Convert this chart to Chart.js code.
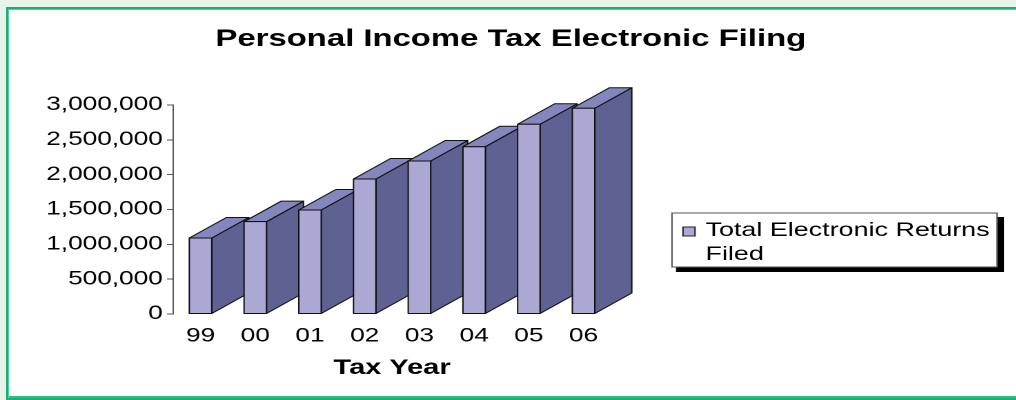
<!DOCTYPE html>
<html>
<head>
<meta charset="utf-8">
<script src="https://cdn.jsdelivr.net/npm/chart.js@4"></script>
<style>
    html, body { margin: 0; padding: 0; width: 1016px; height: 400px; overflow: hidden; background: #e8f3ea; }
    #frame { position: absolute; left: 6px; top: 7px; width: 1010px; height: 393px; box-sizing: border-box; background: #fff; border: solid #1cae72; border-width: 2px 0 2px 2px; box-shadow: inset 1px 1px 0 #4fd29b, inset 0 -2px 0 #2dbd80; }
    #pie { position: absolute; left: 0; top: 0; transform-origin: 0 0; transform: scaleX(1.38); }
</style>
</head>
<body>
<div id="frame"></div>
<canvas id="pie" width="736" height="400"></canvas>
<script>
const years = ['99', '00', '01', '02', '03', '04', '05', '06'];
const returnsFiled = [1091000, 1325000, 1493000, 1938000, 2196000, 2401000, 2723000, 2953000];
const legendLines = ['Total Electronic Returns', 'Filed'];

const stretch = 1.38;   // the original picture is wider than tall, all text is stretched
const depthX = 37 / stretch;
const depthY = 20.5;

// 3d faces of the bars, left to right so each bar covers the side of the one before
const bars3d = {
    id: 'bars3d',
    afterDatasetsDraw(chart) {
        const ctx = chart.ctx;
        ctx.save();
        ctx.lineWidth = 1;
        ctx.strokeStyle = '#111';
        ctx.lineJoin = 'round';
        chart.getDatasetMeta(0).data.forEach(bar => {
            const l = bar.x - bar.width / 2, r = bar.x + bar.width / 2;
            const t = bar.y, b = bar.base;

            ctx.fillStyle = '#5f6192';
            ctx.beginPath();
            ctx.moveTo(r, t);
            ctx.lineTo(r + depthX, t - depthY);
            ctx.lineTo(r + depthX, b - depthY);
            ctx.lineTo(r, b);
            ctx.closePath();
            ctx.fill();
            ctx.stroke();

            ctx.fillStyle = '#8486bd';
            ctx.beginPath();
            ctx.moveTo(l, t);
            ctx.lineTo(l + depthX, t - depthY);
            ctx.lineTo(r + depthX, t - depthY);
            ctx.lineTo(r, t);
            ctx.closePath();
            ctx.fill();
            ctx.stroke();

            ctx.fillStyle = '#aba8d4';
            ctx.fillRect(l, t, r - l, b - t);
            ctx.strokeRect(l, t, r - l, b - t);
        });
        ctx.restore();
    }
};

const legendBox = {
    id: 'legendBox',
    afterLayout(chart) {
        // centre the title on the whole picture, not on the plot
        chart.titleBlock.left = 3 / stretch;
        chart.titleBlock.right = chart.width + 3 / stretch;
    },
    afterDraw(chart) {
        const ctx = chart.ctx;
        const x = 672 / stretch, w = 325 / stretch, y = 213, h = 54;
        ctx.save();
        ctx.fillStyle = '#000';
        ctx.fillRect(x + 4 / stretch, y + 4, w + 3 / stretch, h + 1);
        ctx.fillStyle = '#fff';
        ctx.strokeStyle = '#555';
        ctx.lineWidth = 1;
        ctx.fillRect(x, y, w, h);
        ctx.strokeRect(x, y, w, h);
        ctx.fillStyle = '#aba8d4';
        ctx.strokeStyle = '#222';
        ctx.fillRect(683 / stretch, 227, 12 / stretch, 9);
        ctx.strokeRect(683 / stretch, 227, 12 / stretch, 9);
        ctx.fillStyle = '#000';
        ctx.font = '19.5px "Liberation Sans"';
        ctx.textBaseline = 'alphabetic';
        legendLines.forEach((line, i) => ctx.fillText(line, 705.5 / stretch, 236 + i * 24));
        ctx.restore();
    }
};

new Chart(document.getElementById('pie'), {
    type: 'bar',
    data: {
        labels: years,
        datasets: [{
            label: legendLines.join(' '),
            data: returnsFiled,
            backgroundColor: '#aba8d4',
            barPercentage: 0.41,
            categoryPercentage: 1
        }]
    },
    plugins: [bars3d, legendBox],
    options: {
        responsive: false,
        animation: false,
        devicePixelRatio: 2,
        layout: { padding: { left: 10, right: 293.3, top: 0, bottom: 0 } },
        plugins: {
            legend: { display: false },
            tooltip: { enabled: false },
            title: {
                display: true,
                text: 'Personal Income Tax Electronic Filing',
                color: '#000',
                font: { family: '"Liberation Sans"', size: 23.8, weight: 'bold' },
                padding: { top: 25, bottom: 51.4 }
            }
        },
        scales: {
            x: {
                afterFit: scale => { scale.height = 86; },
                grid: { display: false },
                border: { display: false },
                ticks: { color: '#000', padding: 3, font: { family: '"Liberation Sans"', size: 19 } },
                title: {
                    display: true,
                    text: 'Tax Year',
                    color: '#000',
                    font: { family: '"Liberation Sans"', size: 21, weight: 'bold' },
                    padding: { top: 10, bottom: 19 }
                }
            },
            y: {
                min: 0,
                max: 3000000,
                afterFit: scale => { scale.width = 115.5; },
                grid: { drawOnChartArea: false, color: '#555', tickLength: 4.5 },
                border: { color: '#555', width: 1 },
                ticks: {
                    stepSize: 500000,
                    color: '#000',
                    padding: 3,
                    font: { family: '"Liberation Sans"', size: 19 },
                    callback: v => v.toLocaleString('en-US')
                }
            }
        }
    }
});
</script>
</body>
</html>
